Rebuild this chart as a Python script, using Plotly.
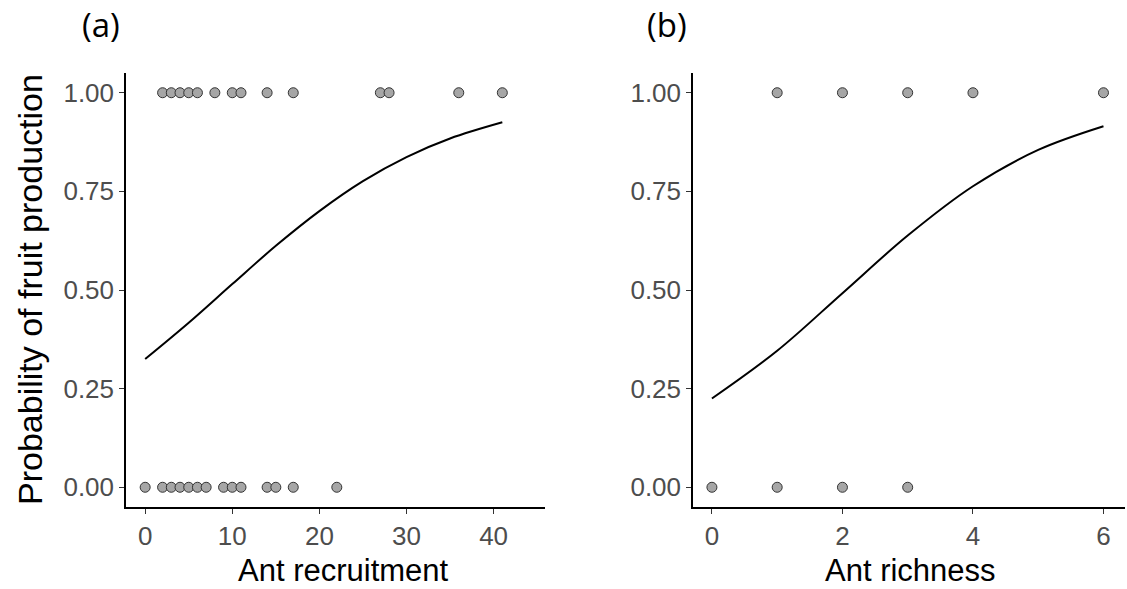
import plotly.graph_objects as go
from plotly.subplots import make_subplots

# Panel (a): ant recruitment vs. fruit set (1 = fruit produced, 0 = none)
recruit_fruit = [2, 3, 4, 5, 6, 8, 10, 11, 14, 17, 27, 28, 36, 41]
recruit_nofruit = [0, 2, 3, 4, 5, 6, 7, 9, 10, 11, 14, 15, 17, 22]
# fitted logistic curve for panel (a)
recruit_curve_x = [0, 5, 10, 15, 20, 25, 30, 35, 41]
recruit_curve_p = [0.325, 0.417, 0.515, 0.612, 0.700, 0.776, 0.837, 0.884, 0.925]

# Panel (b): ant richness vs. fruit set
rich_fruit = [1, 2, 3, 4, 6]
rich_nofruit = [0, 1, 2, 3]
# fitted logistic curve for panel (b)
rich_curve_x = [0, 1, 2, 3, 4, 5, 6]
rich_curve_p = [0.225, 0.346, 0.492, 0.638, 0.763, 0.855, 0.915]

y_ticks = [0, 0.25, 0.5, 0.75, 1.0]
y_ticklabels = ["0.00", "0.25", "0.50", "0.75", "1.00"]

FONT = "Liberation Sans, Arial, sans-serif"
W, H = 1127, 589

fig = make_subplots(rows=1, cols=2)

point_style = dict(size=10, color="#A6A6A6", line=dict(color="#333333", width=1))

def add_panel(col, fruit, nofruit, cx, cp):
    fig.add_trace(go.Scatter(x=nofruit, y=[0] * len(nofruit), mode="markers",
                             marker=point_style, showlegend=False), row=1, col=col)
    fig.add_trace(go.Scatter(x=fruit, y=[1] * len(fruit), mode="markers",
                             marker=point_style, showlegend=False), row=1, col=col)
    fig.add_trace(go.Scatter(x=cx, y=cp, mode="lines", line=dict(color="black", width=2, shape="spline"),
                             showlegend=False), row=1, col=col)

add_panel(1, recruit_fruit, recruit_nofruit, recruit_curve_x, recruit_curve_p)
add_panel(2, rich_fruit, rich_nofruit, rich_curve_x, rich_curve_p)

axis_common = dict(showline=True, linecolor="black", linewidth=1.5, showgrid=False, zeroline=False,
                   ticks="outside", ticklen=5, tickwidth=1.3, tickcolor="#333333",
                   tickfont=dict(family=FONT, size=26, color="#4D4D4D"))

y_top, y_bot = 73, 507
ydom = [1 - y_bot / H, 1 - y_top / H]

fig.update_xaxes(axis_common, row=1, col=1, domain=[126 / W, 545 / W], range=[-2.2, 45.9],
                 tickvals=[0, 10, 20, 30, 40], ticklabelstandoff=0)
fig.update_xaxes(axis_common, row=1, col=2, domain=[693 / W, 1125 / W], range=[-0.29, 6.33],
                 tickvals=[0, 2, 4, 6], ticklabelstandoff=0)
for c in (1, 2):
    fig.update_yaxes(axis_common, row=1, col=c, domain=ydom, range=[-0.05, 1.05],
                     tickvals=y_ticks, ticktext=y_ticklabels)

panel_font = dict(family="Open Sans, sans-serif", size=33, color="black")
title_font = dict(family=FONT, size=31, color="black")
annotations = [
    dict(text="(a)", x=101 / W, y=1 - 25 / H, yanchor="middle", font=panel_font),
    dict(text="(b)", x=667 / W, y=1 - 25 / H, yanchor="middle", font=panel_font),
    dict(text="Ant recruitment", x=343 / W, y=0, yanchor="bottom", font=title_font),
    dict(text="Ant richness", x=910 / W, y=0, yanchor="bottom", font=title_font),
    dict(text="Probability of fruit production", x=30 / W, y=1 - 290 / H, yanchor="middle", textangle=-90,
         font=dict(family=FONT, size=34, color="black")),
]
for a in annotations:
    fig.add_annotation(xref="paper", yref="paper", showarrow=False, xanchor="center", borderpad=0, **a)

fig.update_layout(width=W, height=H, margin=dict(l=0, r=0, t=0, b=0),
                  plot_bgcolor="white", paper_bgcolor="white")

fig.write_html("out.html")
